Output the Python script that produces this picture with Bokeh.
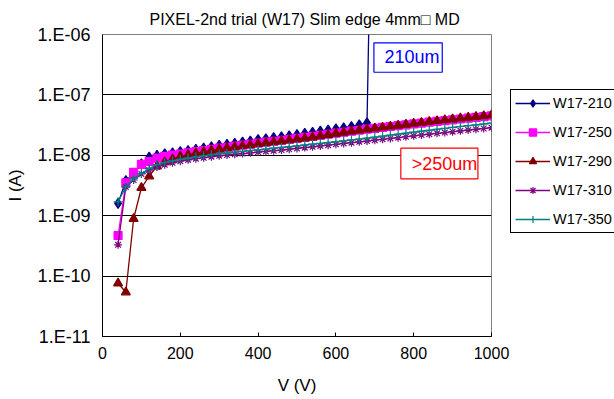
import numpy as np
from bokeh.plotting import figure
from bokeh.layouts import row
from bokeh.models import (FixedTicker, Legend, LegendItem, Label, BoxAnnotation, Arrow, Range1d)
from bokeh.embed import file_html
from bokeh.resources import INLINE

# ---- data (current in nA) ----
V_all = list(range(40, 1001, 20))
V_210 = list(range(40, 681, 20))

I_210 = [1.6, 3.8, 5.0, 7.2, 9.3, 10.0, 10.6, 11.0, 11.5, 12.0, 12.6, 13.2, 13.8, 14.6, 15.2, 15.8,
         16.5, 17.2, 18.2, 18.8, 19.6, 20.3, 21.1, 22.0, 23.0, 24.0, 25.2, 26.2, 27.3, 28.6, 30.0,
         31.8, 34.5]
I_250 = [0.47, 3.5, 5.2, 7.1, 7.9, 9.0, 9.6, 10.1, 10.5, 11.0, 11.5, 12.0, 12.5, 13.1, 13.6, 14.2,
         14.7, 15.3, 15.9, 16.5, 17.1, 17.7, 18.4, 19.1, 19.8, 20.5, 21.4, 22.3, 23.2, 24.1, 25.1,
         26.0, 27.1, 28.0, 29.0, 30.0, 31.0, 32.0, 33.1, 34.2, 35.3, 36.4, 37.5, 38.7, 39.9, 41.1,
         42.4, 43.6, 45.0]
I_290 = [0.076, 0.054, 0.89, 2.9, 4.5, 6.6, 7.7, 8.6, 9.6, 10.2, 10.8, 11.4, 12.0, 12.6, 13.2, 13.7,
         14.3, 14.8, 15.5, 16.0, 16.6, 17.2, 17.8, 18.5, 19.2, 19.9, 21.0, 21.9, 22.9, 23.9, 24.9,
         25.9, 27.0, 28.0, 29.0, 30.1, 31.2, 32.3, 33.5, 34.7, 35.9, 37.1, 38.3, 39.6, 40.9, 42.2,
         43.5, 44.8, 46.3]
I_310 = [0.33, 3.0, 3.9, 4.9, 5.7, 6.4, 7.0, 7.5, 8.0, 8.4, 8.8, 9.1, 9.5, 9.8, 10.1, 10.4,
         10.7, 11.0, 11.3, 11.6, 11.9, 12.2, 12.6, 13.0, 13.4, 13.8, 14.3, 14.7, 15.2, 15.7, 16.2,
         16.7, 17.2, 17.8, 18.4, 19.0, 19.6, 20.3, 21.0, 21.7, 22.4, 23.1, 23.8, 24.6, 25.4, 26.2,
         27.0, 27.8, 28.7]
I_350 = [1.7, 3.0, 4.1, 5.0, 6.0, 7.0, 7.6, 8.1, 8.6, 9.0, 9.4, 9.8, 10.2, 10.6, 10.9, 11.3,
         11.6, 12.0, 12.3, 12.7, 13.1, 13.5, 13.9, 14.3, 14.8, 15.3, 15.8, 16.3, 16.8, 17.4, 18.0,
         18.6, 19.2, 20.0, 20.8, 21.6, 22.4, 23.3, 24.2, 25.1, 26.0, 27.0, 28.0, 29.0, 30.0, 31.0,
         32.0, 33.0, 34.0]

series_names = ["W17-210", "W17-250", "W17-290", "W17-310", "W17-350"]
colors = ["#000080", "#FF00FF", "#800000", "#800080", "#008080"]
markers = ["diamond", "square", "triangle", "asterisk", "cross"]
msizes = [10, 8, 9, 8, 9]

y_ticks = [1e-11, 1e-10, 1e-9, 1e-8, 1e-7, 1e-6]
y_tick_labels = ["1.E-11", "1.E-10", "1.E-09", "1.E-08", "1.E-07", "1.E-06"]
x_ticks = [0, 200, 400, 600, 800, 1000]

FONT = "Liberation Sans"

p = figure(width=510, height=399, y_axis_type="log", x_range=(0, 1000), y_range=(1e-11, 1e-6),
           output_backend="svg", toolbar_location=None,
           min_border_left=102, min_border_right=19, min_border_top=34, min_border_bottom=63)

p.title.text = "PIXEL-2nd trial (W17) Slim edge 4mm\u25a1 MD"
p.title.align = "left"
p.title.offset = 47
p.title.standoff = 13
p.title.text_font = FONT
p.title.text_font_size = "16px"
p.title.text_font_style = "normal"
p.title.text_color = "#000000"

p.outline_line_color = "#808080"
p.outline_line_width = 1
p.xgrid.visible = False
p.ygrid.grid_line_color = "#000000"
p.ygrid.grid_line_width = 1
p.ygrid.minor_grid_line_color = None

p.xaxis.ticker = FixedTicker(ticks=x_ticks)
p.yaxis.ticker = FixedTicker(ticks=y_ticks)
p.yaxis.major_label_overrides = {t: s for t, s in zip(y_ticks, y_tick_labels)}

for ax in (p.xaxis[0], p.yaxis[0]):
    ax.axis_line_color = "#000000"
    ax.major_tick_out = 0
    ax.minor_tick_line_color = None
    ax.major_label_text_font = FONT
    ax.major_label_text_color = "#000000"
    ax.axis_label_text_font = FONT
    ax.axis_label_text_font_style = "normal"
    ax.axis_label_text_color = "#000000"

p.xaxis.major_tick_in = 4
p.xaxis.major_tick_line_color = "#000000"
p.yaxis.major_tick_in = 0
p.yaxis.major_tick_line_color = None
p.xaxis.major_label_text_font_size = "16px"
p.yaxis.major_label_text_font_size = "18px"
p.xaxis.major_label_standoff = 10
p.yaxis.major_label_standoff = 12
p.xaxis.axis_label = "V (V)"
p.yaxis.axis_label = "I (A)"
p.xaxis.axis_label_text_font_size = "17px"
p.yaxis.axis_label_text_font_size = "17px"
p.xaxis.axis_label_standoff = 14
p.yaxis.axis_label_standoff = 9

volts = [V_210, V_all, V_all, V_all, V_all]
currents = [I_210, I_250, I_290, I_310, I_350]

for name, vv, ii, c, m, s in zip(series_names, volts, currents, colors, markers, msizes):
    ia = np.array(ii) * 1e-9
    p.line(vv, ia, line_color=c, line_width=1.3)
    p.scatter(vv, ia, marker=m, size=s, fill_color=c, line_color=c, line_width=1.2)

# callout for 210um
p.add_layout(Arrow(end=None, x_start=V_210[-1], y_start=I_210[-1] * 1e-9, x_end=685, y_end=1.84e-6,
                   line_color="#000080", line_width=1.3))

p.add_layout(BoxAnnotation(left=697.7, right=873.4, bottom=2.37e-7, top=7.29e-7,
                           fill_color="#FFFFFF", fill_alpha=1, line_color="#0000FF",
                           line_alpha=1, line_width=1.2))
p.add_layout(Label(x=866.4, y=4.17e-7, text="210um", text_align="right", text_baseline="middle",
                   text_font=FONT, text_font_size="18px", text_color="#0000FF"))
p.add_layout(BoxAnnotation(left=766.9, right=965.1, bottom=4.08e-9, top=1.31e-8,
                           fill_color="#FFFFFF", fill_alpha=1, line_color="#FF0000",
                           line_alpha=1, line_width=1.2))
p.add_layout(Label(x=963.3, y=7.31e-9, text=">250um", text_align="right", text_baseline="middle",
                   text_font=FONT, text_font_size="18px", text_color="#FF0000"))

# ---- legend panel (separate figure to the right) ----
lf = figure(width=104, height=399, x_range=Range1d(0, 1), y_range=Range1d(0, 1),
            output_backend="svg", toolbar_location=None,
            x_axis_location=None, y_axis_location=None,
            min_border_left=0, min_border_right=0, min_border_top=0, min_border_bottom=0)
lf.outline_line_color = None
lf.grid.visible = False

items = []
for name, vv, ii, c, m, s in zip(series_names, volts, currents, colors, markers, msizes):
    ia = np.array(ii) * 1e-9
    ln = lf.line(vv, ia, line_color=c, line_width=1.3)
    sc = lf.scatter(vv, ia, marker=m, size=s, fill_color=c, line_color=c, line_width=1.2)
    items.append(LegendItem(label=name, renderers=[ln, sc]))

legend = Legend(items=items, location=(0, 103), label_text_font=FONT,
                label_text_font_size="14.5px", label_text_color="#000000",
                glyph_width=35, glyph_height=18, label_height=18, spacing=11,
                padding=4, margin=0, label_standoff=3,
                border_line_color="#000000", border_line_width=1, border_line_alpha=1,
                background_fill_color="#FFFFFF", background_fill_alpha=1)
lf.add_layout(legend, "center")

layout = row(p, lf)
open("out.html", "w").write(file_html(layout, INLINE))
